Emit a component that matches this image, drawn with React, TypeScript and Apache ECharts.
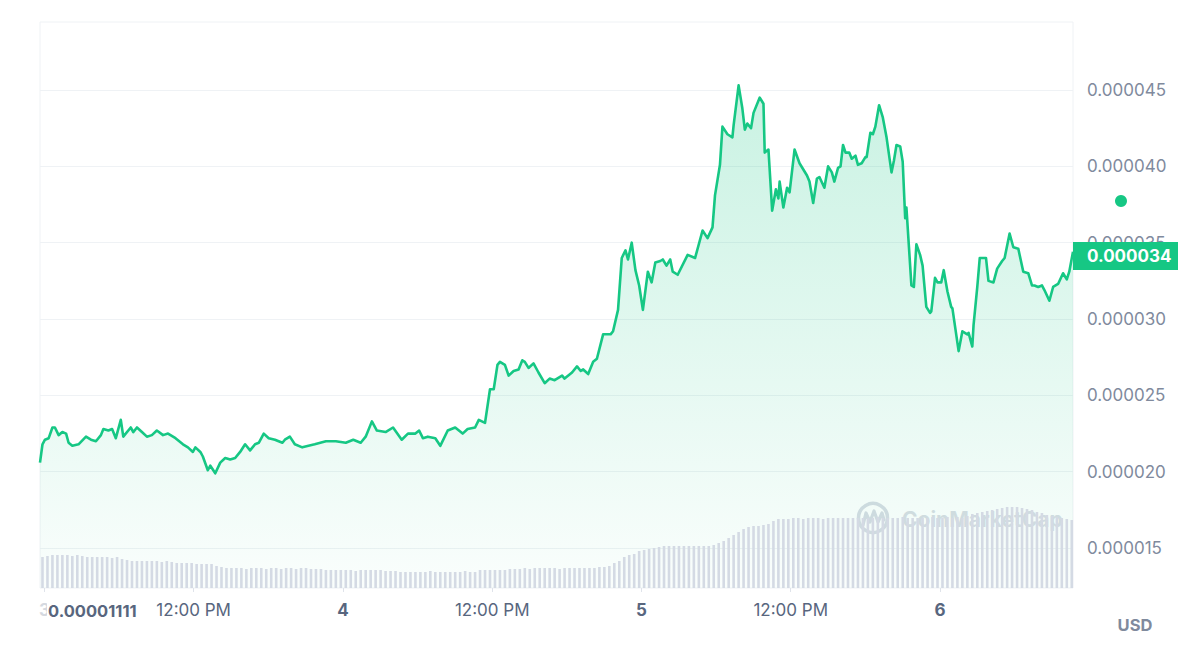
import React, { useEffect, useRef } from "react";
import * as echarts from "echarts";

// Price samples: hours relative to day "4" 00:00, price in micro-USD (1e-6 USD)
const priceHours = [
  -24.4, -24.2, -24.0, -23.7, -23.4, -23.2, -22.9, -22.6, -22.3, -22.1, -21.8, -21.3, -20.7, -20.3, -19.9, -19.5,
  -19.3, -18.9, -18.6, -18.3, -17.9, -17.7, -17.1, -16.9, -16.6, -16.2, -15.8, -15.4, -15.0, -14.5, -14.1, -13.5,
  -12.9, -12.5, -12.1, -11.9, -11.5, -11.3, -10.9, -10.7, -10.3, -9.9, -9.5, -9.1, -8.7, -8.3, -7.9, -7.5,
  -7.1, -6.8, -6.4, -6.0, -5.5, -4.9, -4.7, -4.3, -3.9, -3.3, -2.3, -1.4, -0.6, 0.2, 0.8, 1.4,
  1.8, 2.3, 2.7, 3.4, 4.0, 4.7, 5.2, 5.8, 6.1, 6.4, 6.8, 7.4, 7.8, 8.4, 9.0, 9.6,
  10.0, 10.6, 10.9, 11.4, 11.8, 12.1, 12.4, 12.6, 13.0, 13.3, 13.7, 14.1, 14.4, 14.6, 14.9, 15.3,
  15.7, 16.2, 16.6, 17.0, 17.6, 17.8, 18.4, 18.8, 19.1, 19.3, 19.7, 20.1, 20.4, 20.9, 21.5, 21.7,
  22.1, 22.4, 22.7, 22.9, 23.2, 23.5, 23.8, 24.1, 24.5, 24.8, 25.1, 25.5, 25.7, 26.0, 26.3, 26.5,
  26.9, 27.7, 28.3, 28.9, 29.3, 29.7, 29.9, 30.3, 30.5, 30.9, 31.3, 31.4, 31.8, 32.1, 32.3, 32.5,
  32.8, 33.0, 33.5, 33.8, 33.9, 34.2, 34.5, 34.8, 35.0, 35.1, 35.4, 35.7, 35.9, 36.3, 36.7, 37.3,
  37.5, 37.8, 38.1, 38.3, 38.7, 39.0, 39.3, 39.5, 39.8, 40.0, 40.2, 40.4, 40.7, 40.9, 41.2, 41.4,
  41.7, 42.0, 42.1, 42.4, 42.6, 42.8, 43.1, 43.4, 43.7, 44.1, 44.3, 44.5, 44.8, 45.0, 45.2, 45.3,
  45.7, 45.9, 46.1, 46.4, 46.6, 46.9, 47.2, 47.3, 47.6, 47.8, 48.1, 48.3, 48.6, 48.9, 49.0, 49.5,
  49.8, 50.2, 50.3, 50.6, 50.7, 51.0, 51.2, 51.7, 51.9, 52.3, 52.6, 53.0, 53.2, 53.6, 53.9, 54.3,
  54.7, 55.1, 55.4, 55.6, 55.9, 56.2, 56.4, 56.8, 57.1, 57.5, 57.9, 58.2, 58.4, 58.7,
];
const priceMicroUsd = [
  20.6, 21.8, 22.1, 22.2, 22.9, 22.9, 22.4, 22.6, 22.5, 21.9, 21.7, 21.8, 22.3, 22.1, 22.0, 22.4,
  22.8, 22.7, 22.8, 22.2, 23.4, 22.3, 22.9, 22.6, 22.9, 22.6, 22.3, 22.4, 22.7, 22.4, 22.5, 22.2,
  21.8, 21.6, 21.3, 21.6, 21.3, 21.0, 20.1, 20.4, 19.9, 20.6, 20.9, 20.8, 20.9, 21.3, 21.8, 21.4,
  21.8, 21.9, 22.5, 22.2, 22.1, 21.9, 22.1, 22.3, 21.8, 21.6, 21.8, 22.0, 22.0, 21.9, 22.1, 21.9,
  22.3, 23.3, 22.7, 22.6, 22.9, 22.1, 22.5, 22.5, 22.7, 22.2, 22.3, 22.2, 21.7, 22.7, 22.9, 22.5,
  22.8, 22.9, 23.4, 23.2, 25.4, 25.4, 27.0, 27.2, 27.0, 26.3, 26.6, 26.7, 27.3, 27.2, 26.8, 27.1,
  26.5, 25.8, 26.1, 26.0, 26.3, 26.1, 26.5, 26.9, 26.6, 26.7, 26.4, 27.2, 27.4, 29.0, 29.0, 29.2,
  30.6, 34.0, 34.5, 33.9, 35.0, 33.2, 32.2, 30.6, 33.1, 32.4, 33.7, 33.8, 33.9, 33.5, 33.9, 33.1,
  32.9, 34.2, 34.0, 35.8, 35.3, 36.0, 38.1, 40.1, 42.6, 42.1, 41.9, 42.7, 45.3, 43.8, 42.4, 42.8,
  42.5, 43.5, 44.5, 44.1, 40.9, 41.1, 37.1, 38.5, 37.9, 39.0, 37.3, 38.6, 38.3, 41.1, 40.2, 39.4,
  39.0, 37.6, 39.2, 39.3, 38.6, 40.0, 39.6, 39.0, 39.9, 40.0, 41.4, 40.9, 40.9, 40.5, 40.7, 40.1,
  40.2, 40.6, 40.6, 42.2, 42.1, 42.6, 44.0, 43.2, 41.9, 39.6, 40.4, 41.4, 41.3, 40.3, 36.6, 37.3,
  32.2, 32.1, 34.9, 34.2, 33.5, 30.8, 30.4, 30.5, 32.7, 32.4, 32.4, 33.2, 31.8, 30.8, 30.7, 27.9,
  29.2, 29.0, 29.1, 28.2, 29.6, 32.1, 34.0, 34.0, 32.5, 32.4, 33.3, 33.8, 34.0, 35.6, 34.7, 34.6,
  33.1, 33.0, 32.2, 32.2, 32.1, 32.2, 31.9, 31.2, 32.1, 32.3, 33.0, 32.6, 33.1, 34.4,
];

// Volume bars (relative units), one every 0.4 h from -24.2 h
const volumeStartHour = -24.2;
const volumeStepHours = 0.4;
const volumeRelative = [
  31, 32, 33, 33, 33, 33, 32, 33, 32, 31,
  31, 31, 31, 31, 30, 31, 29, 28, 27, 27,
  27, 27, 27, 27, 26, 27, 26, 25, 25, 25,
  25, 24, 24, 24, 24, 22, 21, 20, 20, 20,
  20, 19, 20, 20, 20, 19, 20, 20, 19, 20,
  20, 19, 20, 20, 19, 19, 19, 18, 18, 18,
  18, 18, 18, 17, 18, 18, 18, 18, 18, 17,
  17, 17, 16, 16, 16, 16, 16, 16, 17, 16,
  16, 16, 16, 16, 16, 17, 16, 16, 18, 18,
  18, 18, 18, 18, 19, 19, 19, 20, 19, 20,
  20, 20, 20, 20, 19, 20, 20, 20, 20, 20,
  20, 20, 21, 21, 22, 25, 27, 31, 33, 34,
  37, 38, 39, 40, 41, 42, 42, 42, 42, 42,
  42, 42, 42, 42, 42, 43, 45, 47, 50, 53,
  56, 59, 61, 62, 62, 63, 64, 67, 69, 69,
  69, 70, 70, 69, 70, 70, 70, 69, 70, 70,
  70, 70, 70, 70, 70, 70, 70, 70, 71, 70,
  70, 70, 70, 71, 70, 70, 70, 70, 70, 71,
  70, 70, 71, 70, 71, 70, 72, 74, 75, 76,
  77, 78, 79, 80, 81, 81, 81, 80, 79, 78,
  76, 75, 73, 72, 71, 70, 69, 68,
];

const xTickHours = [-24, -12, 0, 12, 24, 36, 48];
const xTickLabels = ["3", "12:00 PM", "4", "12:00 PM", "5", "12:00 PM", "6"];
const yTicksMicro = [15, 20, 25, 30, 35, 40, 45];
const lastPriceLabel = "0.000034";
const minPriceLabel = "0.00001111";
const currencyLabel = "USD";
const watermarkLabel = "CoinMarketCap";

const GREEN = "#16c784";
const FONT = "Inter, 'Noto Sans', sans-serif";

export default function App() {
  const ref = useRef<HTMLDivElement>(null);

  useEffect(() => {
    if (!ref.current) return;
    const chart = echarts.init(ref.current, null, { renderer: "svg" });

    const priceData = priceHours.map((h, i) => [h, priceMicroUsd[i]]);
    const volumeData = volumeRelative.map((v, i) => [volumeStartHour + i * volumeStepHours, v]);

    const xMin = -24.4;
    const xMax = 58.7;

    const option: any = {
      animation: false,
      backgroundColor: "#ffffff",
      grid: [
        { left: 40, right: 127, top: 22, bottom: 73, show: true, borderColor: "#eff2f5", borderWidth: 1, backgroundColor: "transparent" },
        { left: 40, right: 127, top: 500, bottom: 73 },
        { left: 40, right: 127, top: 90, bottom: 113 },
        { left: 44.4, right: 260, top: 22, bottom: 73 },
      ],
      xAxis: [
        { type: "value", gridIndex: 0, min: xMin, max: xMax, show: false },
        { type: "value", gridIndex: 1, min: xMin, max: xMax, show: false },
        { type: "value", gridIndex: 2, min: 0, max: 1, show: false },
        {
          type: "value",
          gridIndex: 3,
          min: xTickHours[0],
          max: xTickHours[xTickHours.length - 1],
          interval: 12,
          axisLine: { show: false },
          axisTick: { show: true, length: 4, lineStyle: { color: "#dfe3ea" } },
          splitLine: { show: false },
          axisLabel: {
            margin: 13,
            fontFamily: FONT,
            formatter: (v: number) => {
              const idx = xTickHours.indexOf(Math.round(v));
              if (idx < 0) return "";
              const t = xTickLabels[idx];
              if (idx === 0) return "{f|" + t + "}";
              return t.indexOf(":") >= 0 ? "{n|" + t + "}" : "{b|" + t + "}";
            },
            rich: {
              n: { fontSize: 17, color: "#58667e", fontFamily: FONT },
              b: { fontSize: 17, color: "#58667e", fontWeight: 700, fontFamily: FONT },
              f: { fontSize: 17, color: "#d5d9e0", fontWeight: 700, fontFamily: FONT },
            },
          },
        },
      ],
      yAxis: [
        { type: "value", gridIndex: 0, min: 12.39, max: 49.45, show: false },
        { type: "value", gridIndex: 1, min: 0, max: 88, show: false },
        {
          type: "value",
          gridIndex: 2,
          position: "right",
          min: yTicksMicro[0],
          max: yTicksMicro[yTicksMicro.length - 1],
          interval: 5,
          axisLine: { show: false },
          axisTick: { show: false },
          splitLine: { show: true, lineStyle: { color: "#eff2f5", width: 1 } },
          axisLabel: {
            margin: 14,
            fontSize: 17,
            color: "#808a9d",
            fontFamily: FONT,
            formatter: (v: number) => (v * 1e-6).toFixed(6),
          },
        },
        { type: "value", gridIndex: 3, min: 0, max: 1, show: false },
      ],
      series: [
        {
          type: "line",
          xAxisIndex: 0,
          yAxisIndex: 0,
          data: priceData,
          showSymbol: false,
          symbol: "none",
          smooth: false,
          z: 3,
          lineStyle: { color: GREEN, width: 2.6, join: "round" },
          areaStyle: {
            origin: "start",
            color: new echarts.graphic.LinearGradient(0, 0, 0, 1, [
              { offset: 0, color: "rgba(22,199,132,0.33)" },
              { offset: 1, color: "rgba(22,199,132,0.03)" },
            ]),
          },
        },
        {
          type: "bar",
          xAxisIndex: 1,
          yAxisIndex: 1,
          data: volumeData,
          barWidth: 2.6,
          z: 4,
          itemStyle: { color: "#d4dae4" },
        },
      ],
      graphic: [
        {
          type: "group",
          z: 1,
          silent: true,
          children: [
            {
              type: "circle",
              shape: { cx: 873, cy: 518, r: 14.5 },
              style: { fill: "none", stroke: "#d7dce4", lineWidth: 3.5 },
            },
            {
              type: "polyline",
              shape: { points: [[863, 525], [866, 513], [870, 522], [874, 511], [878, 522], [882, 513], [884, 520]] },
              style: { fill: "none", stroke: "#d7dce4", lineWidth: 3.2, lineJoin: "round", lineCap: "round" },
            },
            {
              type: "text",
              x: 902,
              y: 519,
              style: {
                text: watermarkLabel,
                fill: "#d9dde4",
                font: "700 21px " + FONT,
                verticalAlign: "middle",
                align: "left",
              },
            },
          ],
        },
        {
          type: "text",
          x: 47,
          y: 611,
          z: 10,
          style: {
            text: minPriceLabel,
            fill: "#58667e",
            font: "700 16.5px " + FONT,
            verticalAlign: "middle",
            align: "left",
            backgroundColor: "#ffffff",
            padding: [2, 1, 2, 1],
          },
        },
        {
          type: "text",
          x: 1135,
          y: 625,
          style: {
            text: currencyLabel,
            fill: "#808a9d",
            font: "700 16.5px " + FONT,
            verticalAlign: "middle",
            align: "center",
          },
        },
        {
          type: "circle",
          shape: { cx: 1121, cy: 201, r: 6 },
          style: { fill: GREEN },
        },
        {
          type: "rect",
          z: 10,
          shape: { x: 1073, y: 242, width: 105, height: 28 },
          style: { fill: GREEN },
        },
        {
          type: "text",
          z: 11,
          x: 1087,
          y: 256,
          style: {
            text: lastPriceLabel,
            fill: "#ffffff",
            font: "700 17px " + FONT,
            verticalAlign: "middle",
            align: "left",
          },
        },
      ],
    };

    chart.setOption(option);
    return () => chart.dispose();
  }, []);

  return (
    <div
      ref={ref}
      style={{ position: "fixed", left: 0, top: 0, width: 1200, height: 661, background: "#fff" }}
    />
  );
}
